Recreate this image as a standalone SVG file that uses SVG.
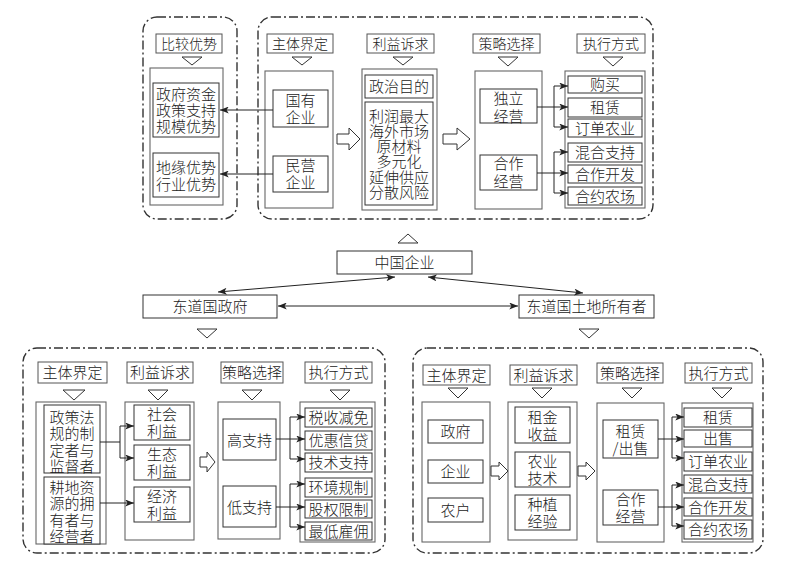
<svg xmlns="http://www.w3.org/2000/svg" width="790" height="572" viewBox="0 0 790 572">
<style>
text{font-family:"Noto Sans CJK SC","Noto Sans CJK JP",sans-serif;font-size:15px;fill:#222;text-anchor:middle;font-weight:300}
.s14{font-size:14px}
.grp{fill:none;stroke:#333;stroke-width:1.4;stroke-dasharray:9 3 2 3}
.lb{fill:#fff;stroke:#555;stroke-width:1}
.ob{fill:#fff;stroke:#666;stroke-width:1.1}
.ib{fill:#fff;stroke:#333;stroke-width:1}
.tri{fill:#fff;stroke:#333;stroke-width:1}
.ha{fill:#fff;stroke:#333;stroke-width:1}
.ln{fill:none;stroke:#222;stroke-width:1}
</style>
<defs>
<marker id="ah" viewBox="0 0 10 8" refX="10" refY="4" markerWidth="10" markerHeight="7" markerUnits="userSpaceOnUse" orient="auto-start-reverse"><path d="M0,0 L10,4 L0,8 L2.5,4 z" fill="#222"/></marker>
</defs>
<rect width="790" height="572" fill="#fff"/>

<g id="groups">
<rect class="grp" x="143" y="17" width="94" height="202" rx="14"/>
<rect class="grp" x="258" y="17" width="395" height="202" rx="14"/>
<rect class="grp" x="23" y="348" width="362" height="205" rx="14"/>
<rect class="grp" x="413" y="348" width="350" height="205" rx="14"/>
</g>

<!-- TOP LEFT -->
<g id="top-bijiao">
<rect class="lb" x="156" y="34" width="66" height="19"/><text class="s14" x="189" y="48.5">比较优势</text>
<polygon class="tri" points="182,57 202,57 192,65"/>
<rect class="ob" x="150" y="68" width="73" height="137"/>
<g id="top-adv1"><rect class="ib" x="153" y="83" width="66" height="54"/>
<text><tspan x="186" y="99.5">政府资金</tspan><tspan x="186" y="115.5">政策支持</tspan><tspan x="186" y="131.5">规模优势</tspan></text></g>
<g id="top-adv2"><rect class="ib" x="153" y="153" width="66" height="44"/>
<text><tspan x="186" y="172.5">地缘优势</tspan><tspan x="186" y="189.5">行业优势</tspan></text></g>
</g>

<!-- TOP RIGHT -->
<g id="top-zhuti">
<rect class="lb" x="267" y="34" width="66" height="19"/><text class="s14" x="300" y="48.5">主体界定</text>
<polygon class="tri" points="292,57 312,57 302,65"/>
<rect class="ob" x="265" y="71" width="68" height="137"/>
<g id="top-guoyou"><rect class="ib" x="273" y="90" width="55" height="37"/><text><tspan x="300.5" y="105.5">国有</tspan><tspan x="300.5" y="123">企业</tspan></text></g>
<g id="top-minying"><rect class="ib" x="273" y="156" width="55" height="36"/><text><tspan x="300.5" y="170.5">民营</tspan><tspan x="300.5" y="188">企业</tspan></text></g>
</g>
<g id="top-liyi">
<rect class="lb" x="367" y="34" width="67" height="19"/><text class="s14" x="400.5" y="48.5">利益诉求</text>
<polygon class="tri" points="393,57 413,57 403,65"/>
<rect class="ob" x="362" y="69" width="75" height="141"/>
<g id="top-zhengzhi"><rect class="ib" x="365" y="75" width="68" height="23"/><text x="399" y="92">政治目的</text></g>
<g id="top-lirun"><rect class="ib" x="365" y="102" width="68" height="103"/>
<text><tspan x="399" y="121.5">利润最大</tspan><tspan x="399" y="136.8">海外市场</tspan><tspan x="399" y="152.1">原材料</tspan><tspan x="399" y="167.4">多元化</tspan><tspan x="399" y="182.7">延伸供应</tspan><tspan x="399" y="198">分散风险</tspan></text></g>
</g>
<g id="top-celue">
<rect class="lb" x="473" y="34" width="67" height="19"/><text class="s14" x="506.5" y="48.5">策略选择</text>
<polygon class="tri" points="498,57 518,57 508,66"/>
<rect class="ob" x="475" y="71" width="67" height="138"/>
<g id="top-duli"><rect class="ib" x="480" y="89" width="57" height="34"/><text><tspan x="508.5" y="104">独立</tspan><tspan x="508.5" y="121.5">经营</tspan></text></g>
<g id="top-hezuo"><rect class="ib" x="480" y="155" width="57" height="35"/><text><tspan x="508.5" y="169">合作</tspan><tspan x="508.5" y="186.5">经营</tspan></text></g>
</g>
<g id="top-zhixing">
<rect class="lb" x="577" y="34" width="68" height="19"/><text class="s14" x="611" y="48.5">执行方式</text>
<polygon class="tri" points="603,57 623,57 613,66"/>
<rect class="ob" x="565" y="71" width="80" height="137"/>
<rect class="ib" x="568" y="76" width="74" height="17"/><text x="605" y="90">购买</text>
<rect class="ib" x="568" y="98" width="74" height="19"/><text x="605" y="113">租赁</text>
<rect class="ib" x="568" y="119" width="74" height="18"/><text x="605" y="133.5">订单农业</text>
<rect class="ib" x="568" y="143" width="74" height="19"/><text x="605" y="158">混合支持</text>
<rect class="ib" x="568" y="165" width="74" height="18"/><text x="605" y="179.5">合作开发</text>
<rect class="ib" x="568" y="187" width="74" height="18"/><text x="605" y="201.5">合约农场</text>
</g>

<!-- MIDDLE -->
<g id="mid-china">
<polygon class="tri" points="398,243 418,243 408,234"/>
<rect class="ib" x="337" y="251" width="135" height="23"/><text x="404.5" y="268">中国企业</text>
</g>
<g id="mid-gov">
<rect class="ib" x="143" y="295" width="134" height="23"/><text x="210" y="312">东道国政府</text>
<polygon class="tri" points="197,329 217,329 207,338"/>
</g>
<g id="mid-land">
<rect class="ib" x="519" y="295" width="135" height="23"/><text x="586.5" y="312">东道国土地所有者</text>
<polygon class="tri" points="579,329 599,329 589,338"/>
</g>

<!-- BOTTOM LEFT -->
<g id="bl-zhuti">
<rect class="lb" x="38" y="362" width="69" height="21"/><text x="72.5" y="378">主体界定</text>
<polygon class="tri" points="63,390 85,390 74,400"/>
<rect class="ob" x="36" y="402" width="70" height="142"/>
<g id="bl-zhengce"><rect class="ib" x="44" y="405" width="56" height="68"/>
<text><tspan x="72" y="422.5">政策法</tspan><tspan x="72" y="439">规的制</tspan><tspan x="72" y="455.5">定者与</tspan><tspan x="72" y="472">监督者</tspan></text></g>
<g id="bl-gengdi"><rect class="ib" x="44" y="477" width="56" height="67"/>
<text><tspan x="72" y="492.5">耕地资</tspan><tspan x="72" y="509">源的拥</tspan><tspan x="72" y="525.5">有者与</tspan><tspan x="72" y="542">经营者</tspan></text></g>
</g>
<g id="bl-liyi">
<rect class="lb" x="127" y="362" width="66" height="21"/><text x="160" y="378">利益诉求</text>
<polygon class="tri" points="148,390 168,390 158,400"/>
<rect class="ob" x="125" y="402" width="69" height="138"/>
<g id="bl-shehui"><rect class="ib" x="134" y="405" width="56" height="35"/><text><tspan x="162" y="420">社会</tspan><tspan x="162" y="437">利益</tspan></text></g>
<g id="bl-shengtai"><rect class="ib" x="134" y="445" width="56" height="35"/><text><tspan x="162" y="460">生态</tspan><tspan x="162" y="477">利益</tspan></text></g>
<g id="bl-jingji"><rect class="ib" x="134" y="487" width="56" height="35"/><text><tspan x="162" y="502">经济</tspan><tspan x="162" y="519">利益</tspan></text></g>
</g>
<g id="bl-celue">
<rect class="lb" x="221" y="362" width="62" height="21"/><text x="252" y="378">策略选择</text>
<polygon class="tri" points="242,390 262,390 252,400"/>
<rect class="ob" x="218" y="402" width="62" height="137"/>
<g id="bl-gao"><rect class="ib" x="223" y="419" width="53" height="41"/><text x="249.5" y="445.5">高支持</text></g>
<g id="bl-di"><rect class="ib" x="223" y="486" width="53" height="41"/><text x="249.5" y="512.5">低支持</text></g>
</g>
<g id="bl-zhixing">
<rect class="lb" x="305" y="362" width="67" height="21"/><text x="338.5" y="378">执行方式</text>
<polygon class="tri" points="330,390 350,390 340,400"/>
<rect class="ob" x="300" y="402" width="75" height="140"/>
<rect class="ib" x="305" y="408" width="67" height="19"/><text x="338.5" y="423">税收减免</text>
<rect class="ib" x="305" y="431" width="67" height="19"/><text x="338.5" y="446">优惠信贷</text>
<rect class="ib" x="305" y="453" width="67" height="19"/><text x="338.5" y="468">技术支持</text>
<rect class="ib" x="305" y="478" width="67" height="19"/><text x="338.5" y="493">环境规制</text>
<rect class="ib" x="305" y="500" width="67" height="18"/><text x="338.5" y="514.5">股权限制</text>
<rect class="ib" x="305" y="522" width="67" height="18"/><text x="338.5" y="536.5">最低雇佣</text>
</g>

<!-- BOTTOM RIGHT -->
<g id="br-zhuti">
<rect class="lb" x="423" y="365" width="67" height="20"/><text x="456.5" y="380.5">主体界定</text>
<polygon class="tri" points="448,388 468,388 458,398"/>
<rect class="ob" x="422" y="402" width="68" height="140"/>
<g id="br-zhengfu"><rect class="ib" x="428" y="420" width="55" height="23"/><text x="455.5" y="437">政府</text></g>
<g id="br-qiye"><rect class="ib" x="428" y="460" width="55" height="23"/><text x="455.5" y="477">企业</text></g>
<g id="br-nonghu"><rect class="ib" x="428" y="498" width="55" height="24"/><text x="455.5" y="515.5">农户</text></g>
</g>
<g id="br-liyi">
<rect class="lb" x="510" y="365" width="67" height="20"/><text x="543.5" y="380.5">利益诉求</text>
<polygon class="tri" points="532,388 552,388 542,398"/>
<rect class="ob" x="508" y="402" width="69" height="138"/>
<g id="br-zujin"><rect class="ib" x="515" y="407" width="55" height="36"/><text><tspan x="542.5" y="422.5">租金</tspan><tspan x="542.5" y="439.5">收益</tspan></text></g>
<g id="br-nongye"><rect class="ib" x="515" y="452" width="55" height="35"/><text><tspan x="542.5" y="466.5">农业</tspan><tspan x="542.5" y="483.5">技术</tspan></text></g>
<g id="br-zhongzhi"><rect class="ib" x="515" y="495" width="55" height="35"/><text><tspan x="542.5" y="509.5">种植</tspan><tspan x="542.5" y="526.5">经验</tspan></text></g>
</g>
<g id="br-celue">
<rect class="lb" x="597" y="363" width="66" height="20"/><text x="630" y="378.5">策略选择</text>
<polygon class="tri" points="622,388 642,388 632,398"/>
<rect class="ob" x="597" y="403" width="67" height="139"/>
<g id="br-zulin"><rect class="ib" x="603" y="420" width="55" height="38"/><text><tspan x="630.5" y="436.5">租赁</tspan><tspan x="630.5" y="453.5">/出售</tspan></text></g>
<g id="br-hezuo"><rect class="ib" x="603" y="490" width="55" height="35"/><text><tspan x="630.5" y="504.5">合作</tspan><tspan x="630.5" y="521.5">经营</tspan></text></g>
</g>
<g id="br-zhixing">
<rect class="lb" x="685" y="363" width="67" height="20"/><text x="718.5" y="378.5">执行方式</text>
<polygon class="tri" points="712,388 732,388 722,398"/>
<rect class="ob" x="682" y="403" width="71" height="139"/>
<rect class="ib" x="684" y="408" width="68" height="19"/><text x="718" y="423">租赁</text>
<rect class="ib" x="684" y="430" width="68" height="17"/><text x="718" y="444">出售</text>
<rect class="ib" x="684" y="452" width="68" height="19"/><text x="718" y="467">订单农业</text>
<rect class="ib" x="684" y="475" width="68" height="18"/><text x="718" y="489.5">混合支持</text>
<rect class="ib" x="684" y="498" width="68" height="18"/><text x="718" y="512.5">合作开发</text>
<rect class="ib" x="684" y="520" width="68" height="19"/><text x="718" y="535">合约农场</text>
</g>

<g id="connectors">
<path class="ha" d="M337,134 H349 V128 L360,139 L349,150 V144 H337 Z"/>
<path class="ha" d="M443,134 H457 V128 L470,139 L457,150 V144 H443 Z"/>
<path class="ha" d="M200,457 H207 V452 L215,462 L207,472 V467 H200 Z"/>
<path class="ha" d="M491,466 H499 V462 L508,471 L499,480 V476 H491 Z"/>
<path class="ha" d="M578,466 H586 V462 L595,471 L586,480 V476 H578 Z"/>
<line class="ln" x1="273" y1="110" x2="220" y2="110" marker-end="url(#ah)"/>
<line class="ln" x1="273" y1="174" x2="220" y2="174" marker-end="url(#ah)"/>
<line class="ln" x1="537" y1="107" x2="568" y2="107" marker-end="url(#ah)"/>
<path class="ln" d="M554,86 V127"/>
<line class="ln" x1="554" y1="86" x2="568" y2="86" marker-end="url(#ah)"/>
<line class="ln" x1="554" y1="127" x2="568" y2="127" marker-end="url(#ah)"/>
<line class="ln" x1="537" y1="173" x2="568" y2="173" marker-end="url(#ah)"/>
<path class="ln" d="M554,152 V193"/>
<line class="ln" x1="554" y1="152" x2="568" y2="152" marker-end="url(#ah)"/>
<line class="ln" x1="554" y1="193" x2="568" y2="193" marker-end="url(#ah)"/>
<line class="ln" x1="218" y1="292" x2="395" y2="277" marker-start="url(#ah)" marker-end="url(#ah)"/>
<line class="ln" x1="428" y1="277" x2="583" y2="293" marker-start="url(#ah)" marker-end="url(#ah)"/>
<line class="ln" x1="278" y1="306" x2="518" y2="306" marker-start="url(#ah)" marker-end="url(#ah)"/>
<path class="ln" d="M100,442 H120 M120,426 V458"/>
<line class="ln" x1="120" y1="426" x2="134" y2="426" marker-end="url(#ah)"/>
<line class="ln" x1="120" y1="458" x2="134" y2="458" marker-end="url(#ah)"/>
<line class="ln" x1="100" y1="503" x2="134" y2="503" marker-end="url(#ah)"/>
<path class="ln" d="M290,417 V459"/>
<line class="ln" x1="276" y1="439" x2="305" y2="439" marker-end="url(#ah)"/>
<line class="ln" x1="290" y1="417" x2="305" y2="417" marker-end="url(#ah)"/>
<line class="ln" x1="290" y1="459" x2="305" y2="459" marker-end="url(#ah)"/>
<path class="ln" d="M290,484 V527"/>
<line class="ln" x1="276" y1="507" x2="305" y2="507" marker-end="url(#ah)"/>
<line class="ln" x1="290" y1="484" x2="305" y2="484" marker-end="url(#ah)"/>
<line class="ln" x1="290" y1="527" x2="305" y2="527" marker-end="url(#ah)"/>
<path class="ln" d="M672,417 V458"/>
<line class="ln" x1="658" y1="439" x2="684" y2="439" marker-end="url(#ah)"/>
<line class="ln" x1="672" y1="417" x2="684" y2="417" marker-end="url(#ah)"/>
<line class="ln" x1="672" y1="458" x2="684" y2="458" marker-end="url(#ah)"/>
<path class="ln" d="M672,485 V526"/>
<line class="ln" x1="658" y1="507" x2="684" y2="507" marker-end="url(#ah)"/>
<line class="ln" x1="672" y1="485" x2="684" y2="485" marker-end="url(#ah)"/>
<line class="ln" x1="672" y1="526" x2="684" y2="526" marker-end="url(#ah)"/>
</g>
</svg>
